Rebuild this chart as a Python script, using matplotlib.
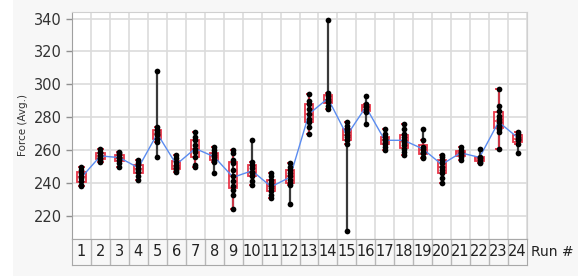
import numpy as np
import matplotlib
matplotlib.use("Agg")
import matplotlib.pyplot as plt
from matplotlib.patches import Rectangle

# === DATA ===
runs = list(range(1, 25))
run_values = [
    [238, 239, 241, 243, 244, 246, 248, 250],            # 1
    [253, 254, 255, 256, 257, 258, 259, 261],            # 2
    [250, 252, 254, 255, 256, 257, 258, 259],            # 3
    [242, 244, 247, 248, 249, 251, 252, 254],            # 4
    [256, 265, 267, 269, 270, 271, 272, 274, 308],       # 5
    [247, 248, 249, 250, 251, 253, 255, 257],            # 6
    [250, 251, 256, 259, 261, 263, 266, 268, 271],       # 7
    [246, 253, 254, 256, 257, 258, 260, 262],            # 8
    [224, 233, 236, 238, 241, 244, 248, 252, 254, 258, 260],  # 9
    [239, 241, 244, 246, 247, 249, 251, 253, 266],       # 10
    [231, 233, 235, 237, 238, 240, 242, 244, 246],       # 11
    [227, 239, 240, 242, 244, 246, 248, 250, 252],       # 12
    [270, 274, 277, 279, 282, 285, 288, 290, 294],       # 13
    [285, 287, 289, 290, 291, 293, 295, 339],            # 14
    [211, 264, 266, 268, 269, 271, 273, 275, 277],       # 15
    [276, 283, 285, 286, 287, 288, 293],                 # 16
    [260, 262, 264, 265, 266, 267, 268, 270, 273],       # 17
    [257, 259, 261, 263, 265, 266, 268, 270, 273, 276],  # 18
    [255, 256, 258, 259, 261, 262, 266, 273],            # 19
    [240, 243, 246, 248, 250, 252, 254, 256, 257],       # 20
    [254, 256, 257, 258, 259, 260, 262],                 # 21
    [252, 253, 254, 255, 256, 261],                      # 22
    [261, 271, 273, 275, 277, 279, 281, 284, 287, 297],  # 23
    [258, 264, 266, 267, 268, 270, 271],                 # 24
]
# blue line (cell means as drawn in the reference)
run_means = [243.5, 256.5, 255.5, 249.3, 270, 251.3, 261, 256, 243.5, 247.5,
             237.8, 243.5, 282, 291.5, 269, 286.3, 266, 266, 260.8, 251.3,
             258.4, 255.6, 277.2, 267.7]

y_ticks = [220, 240, 260, 280, 300, 320, 340]

# === COLOURS ===
bg = '#f7f7f7'
red = '#e8374a'
blue = '#5b8cf0'
grid_c = '#dcdcdc'

W, H = 578, 276
fig = plt.figure(figsize=(W / 100, H / 100), dpi=100, facecolor=bg)
fig.patches.append(Rectangle((0, 0), 13 / W, 1, transform=fig.transFigure,
                             facecolor='white', edgecolor='none', zorder=-1))

x0, x1 = 72 / W, 527 / W
y_top, y_bot, y_lab = 12 / H, 239 / H, 265 / H
ax = fig.add_axes([x0, 1 - y_bot, x1 - x0, y_bot - y_top])
ax.set_facecolor('white')

# grid
for b in np.arange(0.5, 25, 1):
    ax.axvline(b, color=grid_c, lw=1.2, zorder=0)
for t in y_ticks:
    ax.axhline(t, color=grid_c, lw=1.2, zorder=0)

# range lines (min to max)
for r, vals in zip(runs, run_values):
    ax.vlines(r, min(vals), max(vals), color='#3a3a3a', lw=1.6, zorder=2)

# box plots
ax.boxplot(run_values, positions=runs, widths=0.44, whis=1.5, showfliers=False,
           patch_artist=True, manage_ticks=False,
           boxprops=dict(facecolor='none', edgecolor=red, lw=1.3),
           whiskerprops=dict(color=red, lw=1.2),
           capprops=dict(color=red, lw=1.4),
           medianprops=dict(color=red, lw=1.1),
           zorder=3)

# blue mean line
ax.plot(runs, run_means, color=blue, lw=1.0, zorder=4)

# data points
for r, vals in zip(runs, run_values):
    ax.scatter([r] * len(vals), vals, s=17, color='black', zorder=5, linewidths=0)

ax.set_xlim(0.5, 24.5)
ax.set_ylim(206, 344)
ax.set_xticks([])
ax.set_yticks(y_ticks)
ax.tick_params(axis='y', labelsize=10.5, labelcolor='#333333', color='#909090',
               length=4, width=1)
ax.set_ylabel('Force (Avg.)', fontsize=7.5, color='#333333', labelpad=4)
for s in ['left', 'bottom']:
    ax.spines[s].set_color('#a0a0a0')
for s in ['top', 'right']:
    ax.spines[s].set_color('#d0d0d0')

# run label band
ax2 = fig.add_axes([x0, 1 - y_lab, x1 - x0, y_lab - y_bot])
ax2.set_facecolor(bg)
ax2.set_xlim(0.5, 24.5)
ax2.set_ylim(0, 1)
for b in np.arange(1.5, 24.5, 1):
    ax2.axvline(b, color='#b8b8b8', lw=1.0)
for r in runs:
    ax2.text(r, 0.5, str(r), ha='center', va='center', fontsize=10.5, color='#222222')
ax2.set_xticks([])
ax2.set_yticks([])
for s in ax2.spines.values():
    s.set_color('#a8a8a8')
fig.text(531 / W, 1 - 252 / H, 'Run #', ha='left', va='center', fontsize=10,
         color='#222222')

plt.savefig('out.png', dpi=100, facecolor=fig.get_facecolor())
